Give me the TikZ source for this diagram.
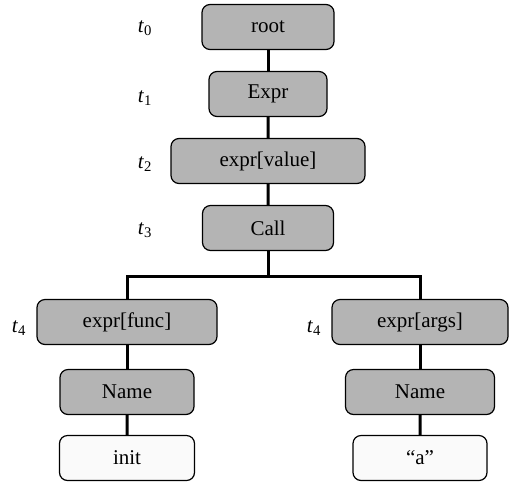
\documentclass[tikz,border=0pt]{standalone}
\usepackage{fontspec}
\setmainfont{Liberation Serif}
\usetikzlibrary{trees}
\definecolor{boxgray}{RGB}{180,180,180}
\definecolor{leafwhite}{RGB}{250,250,250}
\begin{document}
\begin{tikzpicture}[x=1pt,y=1pt,
				every node/.style={font=\fontsize{21}{25}\selectfont},
				box/.style={draw,rounded corners=8pt,line width=1.2pt,fill=boxgray,minimum height=45pt,inner sep=0pt},
				leaf/.style={box,fill=leafwhite},
				edge from parent/.style={draw,line width=3pt},
				level distance=67pt,
				level 4/.style={grow via three points={one child at (6pt,-94pt) and two children at (-141pt,-94pt) and (152pt,-94pt)},
					edge from parent path={(\tikzparentnode.south) -- ++(0,-25pt) -| (\tikzchildnode.north)}},
				level 5/.style={grow=down,level distance=70pt,
					edge from parent path={(\tikzparentnode) -- (\tikzchildnode)}},
				level 6/.style={level distance=66pt}]
\useasboundingbox (0,0) rectangle (510,-488);
\node[box,minimum width=132pt] (root) at (268,-27) {root}
child { node[box,minimum width=118pt] (expr) {Expr}
	child { node[box,minimum width=194pt] (value) {expr[value]}
		child { node[box,minimum width=131pt] (call) {Call}
			child { node[box,minimum width=180pt] (func) {expr[func]}
				child { node[box,minimum width=134pt] (namel) {Name}
					child { node[leaf,minimum width=135pt] (init) {init}}
				}
			}
			child { node[box,minimum width=176pt] (args) {expr[args]}
				child { node[box,minimum width=149pt] (namer) {Name}
					child { node[leaf,minimum width=134pt] (stra) {“a”}}
				}
			}
		}
	}
}
;
% time steps
\node (t0) at (145,-28) {\textit{t}\textsubscript{0}};
\node (t1) at (145,-98) {\textit{t}\textsubscript{1}};
\node (t2) at (145,-164) {\textit{t}\textsubscript{2}};
\node (t3) at (145,-230) {\textit{t}\textsubscript{3}};
\node (t4l) at (19,-328) {\textit{t}\textsubscript{4}};
\node (t4r) at (314,-328) {\textit{t}\textsubscript{4}};
\end{tikzpicture}
\end{document}
